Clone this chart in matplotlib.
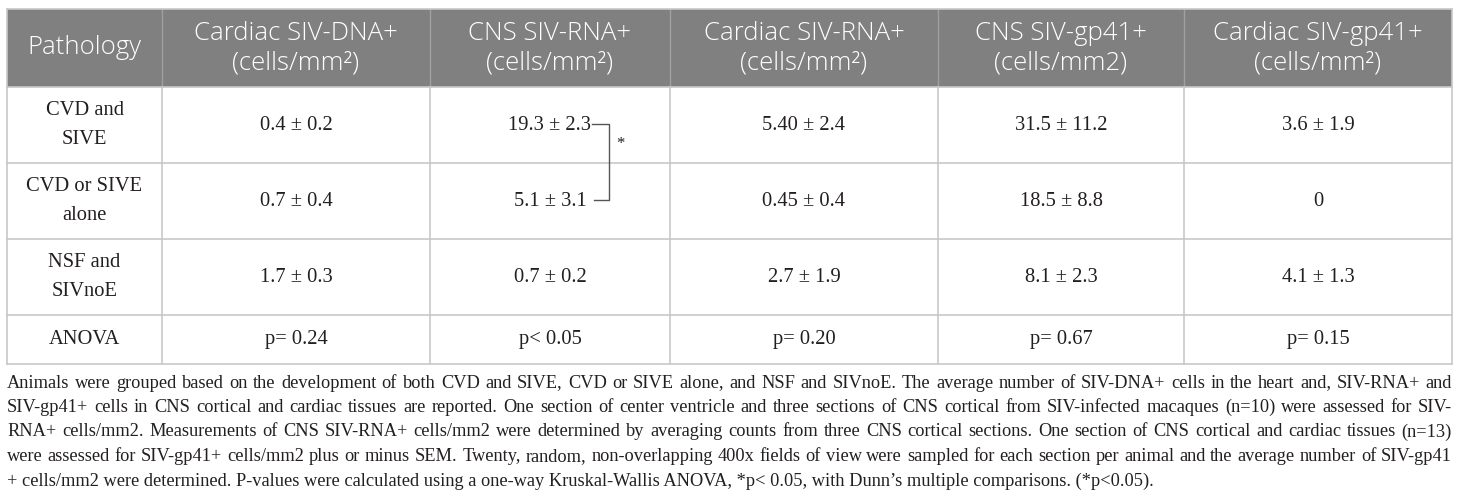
import matplotlib
matplotlib.use("Agg")
import matplotlib.pyplot as plt

# ---------------- data ----------------
headers = ["Pathology",
           "Cardiac SIV-DNA+\n(cells/mm²)",
           "CNS SIV-RNA+\n(cells/mm²)",
           "Cardiac SIV-RNA+\n(cells/mm²)",
           "CNS SIV-gp41+\n(cells/mm2)",
           "Cardiac SIV-gp41+\n(cells/mm²)"]
row_labels = ["CVD and\nSIVE", "CVD or SIVE\nalone", "NSF and\nSIVnoE", "ANOVA"]
cardiac_dna = ["0.4 ± 0.2", "0.7 ± 0.4", "1.7 ± 0.3", "p= 0.24"]
cns_rna = ["19.3 ± 2.3", "5.1 ± 3.1", "0.7 ± 0.2", "p< 0.05"]
cardiac_rna = ["5.40 ± 2.4", "0.45 ± 0.4", "2.7 ± 1.9", "p= 0.20"]
cns_gp41 = ["31.5 ± 11.2", "18.5 ± 8.8", "8.1 ± 2.3", "p= 0.67"]
cardiac_gp41 = ["3.6 ± 1.9", "0", "4.1 ± 1.3", "p= 0.15"]
caption_lines = [
    "Animals were grouped based on the development of both CVD and SIVE, CVD or SIVE alone, and NSF and SIVnoE. The average number of SIV-DNA+ cells in the heart and, SIV-RNA+ and",
    "SIV-gp41+ cells in CNS cortical and cardiac tissues are reported. One section of center ventricle and three sections of CNS cortical from SIV-infected macaques (n=10) were assessed for SIV-",
    "RNA+ cells/mm2. Measurements of CNS SIV-RNA+ cells/mm2 were determined by averaging counts from three CNS cortical sections. One section of CNS cortical and cardiac tissues (n=13)",
    "were assessed for SIV-gp41+ cells/mm2 plus or minus SEM. Twenty, random, non-overlapping 400x fields of view were sampled for each section per animal and the average number of SIV-gp41",
    "+ cells/mm2 were determined. P-values were calculated using a one-way Kruskal-Wallis ANOVA, *p< 0.05, with Dunn\u2019s multiple comparisons. (*p<0.05).",
]

# ---------------- layout ----------------
W, H = 1460, 500
fig = plt.figure(figsize=(W / 100, H / 100), dpi=100)
ax = fig.add_axes([0, 0, 1, 1])
ax.set_xlim(0, W)
ax.set_ylim(H, 0)
ax.axis("off")

col_x = [7, 162, 430, 670, 938, 1184, 1452]
row_y = [9, 87, 163, 239, 315, 364]
grid_c = "#c8c8c8"
head_c = "#808080"
txt_c = "#231f20"

ax.fill_between([col_x[0], col_x[-1]], row_y[0], row_y[1], color=head_c, lw=0)

serif = "Liberation Serif"
sans = "Open Sans"

for i, h in enumerate(headers):
    cx = (col_x[i] + col_x[i + 1]) / 2
    cy = (row_y[0] + row_y[1]) / 2
    ax.text(cx, cy, h, ha="center", va="center", color="white",
            fontsize=18.5, family=sans, fontweight="light", linespacing=1.25)

for x in col_x[1:-1]:
    ax.plot([x, x], [row_y[0], row_y[1]], color="#a0a0a0", lw=1)

for y in row_y[1:]:
    ax.plot([col_x[0], col_x[-1]], [y, y], color=grid_c, lw=1.2)
for x in col_x:
    ax.plot([x, x], [row_y[1], row_y[-1]], color=grid_c, lw=1.2)
ax.plot([col_x[0], col_x[-1]], [row_y[0], row_y[0]], color=grid_c, lw=1.2)
ax.plot([col_x[0], col_x[0]], [row_y[0], row_y[1]], color=grid_c, lw=1.2)
ax.plot([col_x[-1], col_x[-1]], [row_y[0], row_y[1]], color=grid_c, lw=1.2)

columns = [row_labels, cardiac_dna, cns_rna, cardiac_rna, cns_gp41, cardiac_gp41]
for ci, col in enumerate(columns):
    cx = (col_x[ci] + col_x[ci + 1]) / 2
    for ri, val in enumerate(col):
        cy = (row_y[ri + 1] + row_y[ri + 2]) / 2
        ax.text(cx, cy, val, ha="center", va="center", color=txt_c,
                fontsize=14.8, family=serif, linespacing=1.7)

# significance bracket
bx0, bx1 = 592, 609
y1 = (row_y[1] + row_y[2]) / 2 - 1
y2 = (row_y[2] + row_y[3]) / 2 - 1
ax.plot([bx0, bx1, bx1, bx0 + 2], [y1, y1, y2, y2], color="#555555", lw=1)
ax.text(620, y1 + 20, "*", ha="center", va="center", fontsize=12,
        family=serif, color=txt_c)

# caption (justified)
fig.canvas.draw()
renderer = fig.canvas.get_renderer()
cap_x0, cap_x1 = 7, 1452
cap_y0, cap_dy = 383, 24.5

base_fs = 14.0
maxw = 0
for line in caption_lines[:-1]:
    t = ax.text(0, 0, line, fontsize=base_fs, family=serif)
    maxw = max(maxw, t.get_window_extent(renderer).width)
    t.remove()
cap_fs = base_fs * (cap_x1 - cap_x0 - 4) / maxw
cap_fs = min(cap_fs, 15.2)

for li, line in enumerate(caption_lines):
    y = cap_y0 + li * cap_dy
    words = line.split(" ")
    if li == len(caption_lines) - 1:
        ax.text(cap_x0, y, line, ha="left", va="center", fontsize=cap_fs,
                family=serif, color=txt_c)
        continue
    texts, widths = [], []
    for w in words:
        t = ax.text(0, y, w, ha="left", va="center", fontsize=cap_fs,
                    family=serif, color=txt_c)
        texts.append(t)
        widths.append(t.get_window_extent(renderer).width)
    gap = (cap_x1 - cap_x0 - sum(widths)) / (len(words) - 1)
    x = cap_x0
    for t, wd in zip(texts, widths):
        t.set_x(x)
        x += wd + gap

fig.savefig("out.png", dpi=100)
